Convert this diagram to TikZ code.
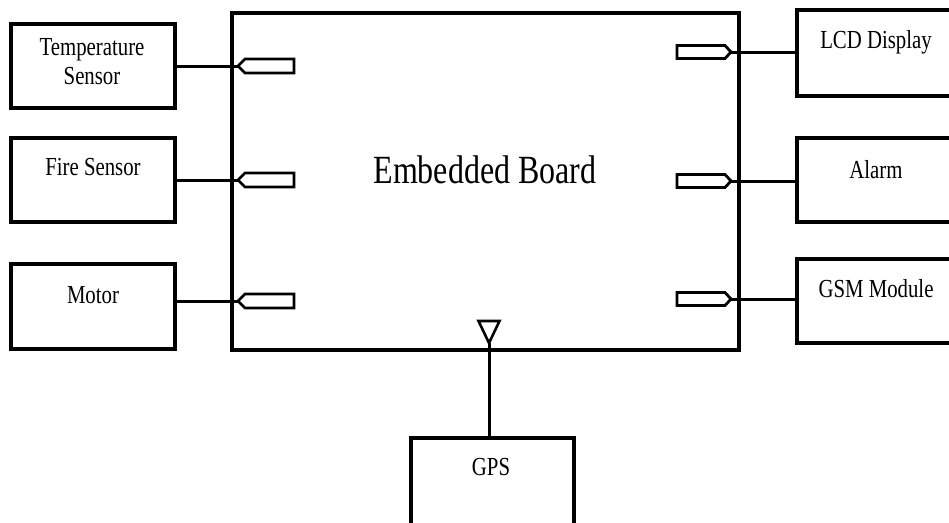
\documentclass[tikz,border=0pt]{standalone}
\usepackage{fontspec}
\setmainfont{Liberation Serif}
\usepackage{graphicx}
\newcommand\stretchtxt[1]{\scalebox{1}[1.25]{#1}}
\tikzset{
  box/.style={draw, line width=3.5pt, inner sep=0pt, fill=white},
  conn/.style={line width=3pt},
  port/.style={draw, line width=2.8pt, fill=white, line join=miter},
  lbl/.style={anchor=base, inner sep=0pt, font=\fontsize{20.8}{24}\selectfont},
}
\begin{document}
\begin{tikzpicture}[x=1pt,y=-1pt]
\useasboundingbox (0,0) rectangle (949,522);
\clip (0,0) rectangle (949,522);
\fill[white] (0,0) rectangle (949,522);
% main board
\node[box, minimum width=507pt, minimum height=337pt] (board) at (485.5,181.5) {};
\node[anchor=base, inner sep=0pt, font=\fontsize{32}{38}\selectfont] (boardlbl) at (485,183) {\stretchtxt{Embedded Board}};
% left boxes
\node[box, minimum width=164pt, minimum height=84pt] (temp) at (93,66) {};
\node[box, minimum width=164pt, minimum height=84pt] (fire) at (93,180) {};
\node[box, minimum width=164pt, minimum height=85pt] (motor) at (93,306.5) {};
% right boxes
\node[box, minimum width=155pt, minimum height=86pt] (lcd) at (874.5,53) {};
\node[box, minimum width=155pt, minimum height=84pt] (alarm) at (874.5,180) {};
\node[box, minimum width=155pt, minimum height=84pt] (gsm) at (874.5,301) {};
% GPS
\node[box, minimum width=163pt, minimum height=104pt] (gps) at (492.5,490) {};
% labels
\node[lbl] (templbl) at (92,55) {\stretchtxt{\begin{tabular}[t]{@{}c@{}}Temperature\\[-0.2pt]Sensor\end{tabular}}};
\node[lbl] (firelbl) at (93,175) {\stretchtxt{Fire Sensor}};
\node[lbl] (motorlbl) at (93,303) {\stretchtxt{Motor}};
\node[lbl] (lcdlbl) at (876,48) {\stretchtxt{LCD Display}};
\node[lbl] (alarmlbl) at (876,178) {\stretchtxt{Alarm}};
\node[lbl] (gsmlbl) at (876,297) {\stretchtxt{GSM Module}};
\node[lbl] (gpslbl) at (491,475) {\stretchtxt{GPS}};
% port tips
\coordinate (pt1) at (238,66);
\coordinate (pt2) at (238,180);
\coordinate (pt3) at (238,301);
\coordinate (pr1) at (731,52);
\coordinate (pr2) at (731,181);
\coordinate (pr3) at (731,299);
\coordinate (ant) at (489,343);
% connectors
\draw[conn] (temp.east |- pt1) -- (pt1);
\draw[conn] (fire.east |- pt2) -- (pt2);
\draw[conn] (motor.east |- pt3) -- (pt3);
\draw[conn] (pr1) -- (lcd.west |- pr1);
\draw[conn] (pr2) -- (alarm.west |- pr2);
\draw[conn] (pr3) -- (gsm.west |- pr3);
\draw[conn] (ant) -- (gps.north -| ant);
% ports
\foreach \p in {pt1,pt2,pt3}{
  \draw[port] (\p) -- ++(7,-7) -- ++(49,0) -- ++(0,14) -- ++(-49,0) -- cycle;
}
\foreach \p in {pr1,pr2,pr3}{
  \draw[port] (\p) -- ++(-6,-6.5) -- ++(-48,0) -- ++(0,13) -- ++(48,0) -- cycle;
}
% antenna
\draw[port, line width=2.6pt] (ant) -- ++(-10.5,-22) -- ++(21,0) -- cycle;
\end{tikzpicture}
\end{document}
